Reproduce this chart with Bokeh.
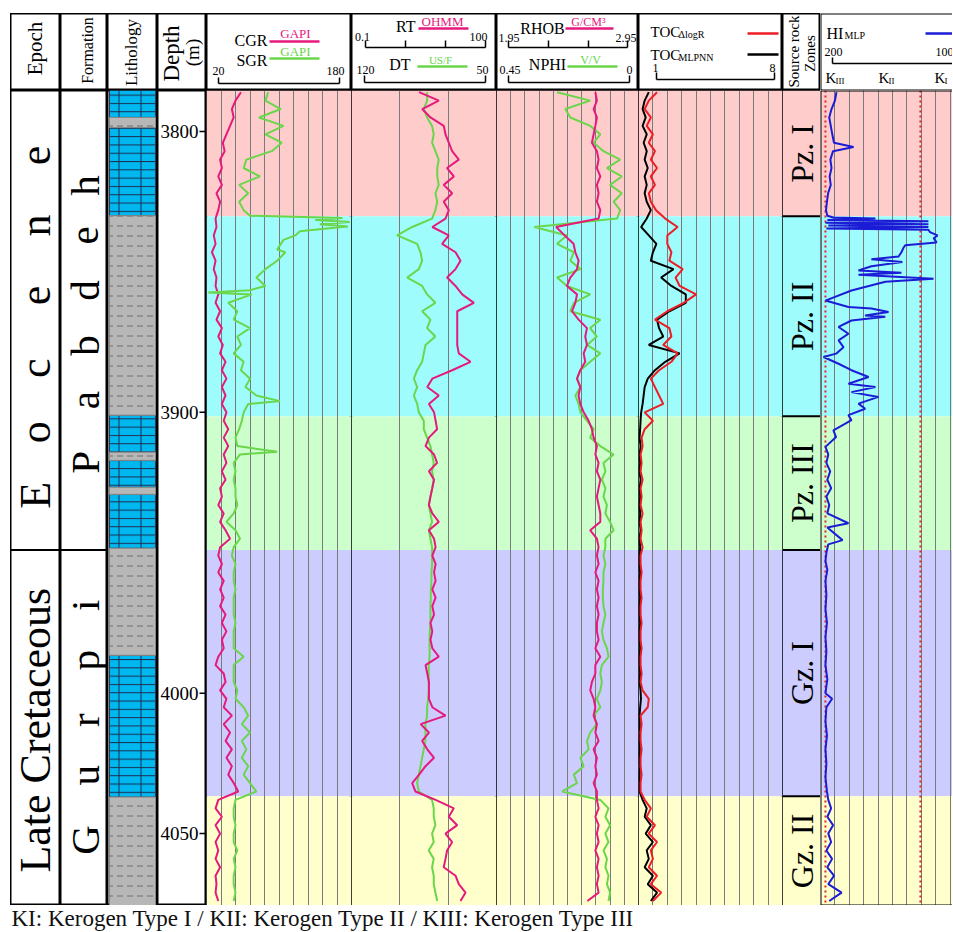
import math
from bokeh.plotting import figure
from bokeh.models import Range1d, LogScale, LinearScale, Grid, FixedTicker, Span, Spacer, Label
from bokeh.layouts import row, column
from bokeh.embed import file_html
from bokeh.resources import INLINE
from bokeh.core.properties import value

# ---------------------------------------------------------------- data
depth = [3786, 3789, 3792, 3795, 3798, 3801, 3804, 3807, 3810, 3813,
         3816, 3819, 3822, 3825, 3828, 3831, 3834, 3837, 3840, 3843,
         3846, 3849, 3852, 3855, 3858, 3861, 3864, 3867, 3870, 3873,
         3876, 3879, 3882, 3885, 3888, 3891, 3894, 3897, 3900, 3903,
         3906, 3909, 3912, 3915, 3918, 3921, 3924, 3927, 3930, 3933,
         3936, 3939, 3942, 3945, 3948, 3951, 3954, 3957, 3960, 3963,
         3966, 3969, 3972, 3975, 3978, 3981, 3984, 3987, 3990, 3993,
         3996, 3999, 4002, 4005, 4008, 4011, 4014, 4017, 4020, 4023,
         4026, 4029, 4032, 4035, 4038, 4041, 4044, 4047, 4050, 4053,
         4056, 4059, 4062, 4065, 4068, 4071, 4074]

cgr = [58, 52, 48, 50, 46, 42, 38, 40, 35, 37,
       33, 37, 31, 35, 33, 30, 31, 28, 30, 26,
       30, 28, 31, 30, 33, 30, 35, 31, 37, 33,
       38, 35, 41, 37, 42, 37, 41, 37, 42, 39,
       44, 39, 44, 39, 42, 37, 41, 35, 37, 33,
       39, 35, 41, 46, 35, 33, 37, 33, 39, 35,
       39, 35, 41, 37, 42, 37, 39, 33, 30, 39,
       41, 35, 42, 39, 48, 39, 46, 41, 48, 42,
       48, 44, 50, 55, 33, 30, 37, 30, 35, 30,
       33, 30, 35, 30, 31, 30, 33]

sgr_depth = [3786, 3789, 3792, 3795, 3798, 3801, 3804, 3807, 3810, 3813,
             3816, 3819, 3822, 3825, 3828, 3830, 3830.8, 3831.5, 3832.2, 3833,
             3833.8, 3834.6, 3835.5, 3837, 3838.6, 3840, 3842, 3843, 3846, 3849,
             3852, 3855, 3856.5, 3857.3, 3858, 3861, 3864, 3867, 3870, 3873,
             3876, 3879, 3882, 3885, 3888, 3891, 3894, 3896, 3897, 3900,
             3903, 3906, 3909, 3912, 3914, 3915, 3918, 3921, 3924, 3927,
             3930, 3933, 3936, 3939, 3942, 3945, 3948, 3951, 3954, 3957,
             3960, 3963, 3966, 3969, 3972, 3975, 3978, 3981, 3984, 3987,
             3990, 3993, 3996, 3999, 4002, 4005, 4008, 4011, 4014, 4017,
             4020, 4023, 4026, 4029, 4032, 4035, 4038, 4041, 4044, 4047,
             4050, 4053, 4056, 4059, 4062, 4065, 4068, 4071, 4074]
sgr = [88, 85, 102, 78, 105, 85, 103, 92, 64, 61,
       79, 56, 66, 56, 61, 68, 170, 140, 178, 145,
       176, 150, 123, 118, 105, 102, 98, 107, 98, 85,
       75, 85, 68, 22, 70, 44, 54, 50, 68, 54,
       58, 50, 61, 58, 68, 63, 75, 101, 66, 61,
       59, 56, 52, 54, 98, 57, 50, 52, 50, 52,
       52, 54, 50, 42, 52, 57, 50, 48, 52, 50,
       50, 52, 50, 50, 50, 52, 50, 50, 50, 61,
       50, 50, 50, 54, 52, 61, 66, 59, 68, 59,
       64, 59, 66, 61, 68, 75, 52, 50, 50, 52,
       50, 50, 54, 50, 52, 50, 50, 52, 50]

rt = [2.5, 6.4, 2.9, 4.3, 8.1, 8.8, 10.3, 12.1, 16.6, 9.5,
      13.1, 8.1, 12.1, 8.1, 10.3, 8.8, 4.7, 10.3, 7.5, 14.2,
      18.0, 14.2, 9.5, 14.2, 19.5, 34.0, 15.4, 15.4, 15.4, 15.4,
      15.4, 16.6, 29.0, 12.1, 4.7, 3.7, 6.4, 4.0, 5.1, 5.5,
      5.9, 4.0, 3.4, 5.1, 5.9, 4.0, 5.1, 4.7, 4.3, 4.0,
      4.7, 6.4, 4.0, 5.1, 5.5, 4.7, 5.5, 5.1, 5.5, 4.7,
      5.5, 4.7, 5.1, 4.3, 4.7, 4.3, 4.7, 6.4, 3.4, 3.7,
      4.0, 4.0, 4.0, 4.7, 8.8, 2.7, 4.0, 2.9, 3.7, 5.1,
      3.4, 2.5, 1.8, 2.1, 5.5, 13.1, 10.3, 15.4, 8.8, 12.1,
      9.5, 8.8, 8.1, 14.2, 16.6, 22.9, 18.0]

dt = [83.5, 83.5, 85.1, 83.5, 81.1, 80.3, 81.1, 79.5, 77.9, 78.6,
      78.6, 77.9, 79.5, 78.6, 79.5, 81.1, 90.7, 98.0, 88.3, 86.7,
      85.9, 87.5, 93.1, 85.9, 83.5, 79.5, 85.9, 81.9, 83.5, 79.5,
      84.3, 85.1, 85.9, 88.3, 89.9, 88.3, 89.9, 88.3, 87.5, 85.1,
      85.1, 83.5, 81.9, 81.1, 80.3, 81.1, 80.3, 81.1, 81.9, 82.7,
      81.9, 81.1, 82.7, 81.9, 81.1, 81.1, 81.1, 81.4, 81.4, 81.7,
      81.7, 81.9, 81.9, 81.9, 82.2, 82.3, 82.3, 82.3, 82.7, 82.7,
      82.7, 82.7, 83.0, 83.5, 83.5, 84.3, 84.3, 84.3, 85.1, 85.9,
      86.7, 87.5, 88.3, 87.5, 81.1, 80.3, 80.3, 79.5, 81.1, 80.3,
      82.7, 80.3, 81.1, 80.3, 80.3, 79.5, 78.6]

rhob = [2.646, 2.657, 2.634, 2.657, 2.646, 2.634, 2.622, 2.657, 2.669, 2.657,
        2.681, 2.657, 2.669, 2.657, 2.681, 2.669, 2.370, 2.430, 2.493, 2.505,
        2.528, 2.517, 2.470, 2.446, 2.517, 2.505, 2.482, 2.528, 2.587, 2.575,
        2.587, 2.564, 2.575, 2.540, 2.517, 2.540, 2.528, 2.540, 2.564, 2.599,
        2.622, 2.634, 2.657, 2.646, 2.669, 2.657, 2.681, 2.669, 2.657, 2.669,
        2.681, 2.681, 2.610, 2.657, 2.669, 2.657, 2.669, 2.646, 2.669, 2.657,
        2.669, 2.657, 2.669, 2.657, 2.657, 2.669, 2.646, 2.681, 2.646, 2.646,
        2.622, 2.610, 2.634, 2.646, 2.634, 2.657, 2.646, 2.669, 2.634, 2.657,
        2.646, 2.657, 2.634, 2.657, 2.657, 2.669, 2.646, 2.669, 2.657, 2.669,
        2.646, 2.669, 2.657, 2.669, 2.657, 2.669, 2.590]

nphi = [0.258, 0.153, 0.232, 0.216, 0.153, 0.121, 0.142, 0.111, 0.058, 0.100,
        0.053, 0.090, 0.053, 0.079, 0.058, 0.068, 0.330, 0.227, 0.258, 0.205,
        0.216, 0.184, 0.258, 0.227, 0.153, 0.205, 0.216, 0.121, 0.153, 0.132,
        0.163, 0.121, 0.153, 0.184, 0.195, 0.184, 0.200, 0.190, 0.184, 0.163,
        0.142, 0.153, 0.121, 0.079, 0.111, 0.105, 0.116, 0.105, 0.111, 0.100,
        0.105, 0.090, 0.079, 0.105, 0.105, 0.111, 0.105, 0.111, 0.111, 0.113,
        0.113, 0.111, 0.105, 0.111, 0.116, 0.111, 0.100, 0.095, 0.116, 0.121,
        0.116, 0.121, 0.132, 0.121, 0.142, 0.132, 0.153, 0.163, 0.158, 0.184,
        0.174, 0.205, 0.195, 0.242, 0.121, 0.095, 0.105, 0.090, 0.105, 0.095,
        0.111, 0.100, 0.105, 0.095, 0.100, 0.090, 0.095]

toc_dlogr = [1.9, 1.5, 1.3, 1.6, 1.4, 1.7, 1.5, 1.8, 1.6, 1.9,
             1.6, 1.8, 1.5, 1.6, 1.85, 2.3, 2.9, 2.4, 2.4, 2.6,
             2.5, 3.15, 2.8, 3.0, 3.8, 3.2, 2.4, 1.8, 2.5, 2.6,
             2.2, 2.9, 2.6, 2.0, 1.6, 1.8, 2.0, 2.2, 1.3, 1.7,
             1.3, 1.15, 1.2, 1.1, 1.15, 1.1, 1.2, 1.1, 1.15, 1.1,
             1.2, 1.1, 1.15, 1.1, 1.2, 1.1, 1.1, 1.15, 1.1, 1.1,
             1.15, 1.1, 1.1, 1.15, 1.1, 1.1, 1.15, 1.1, 1.1, 1.15,
             1.1, 1.2, 1.5, 1.45, 1.1, 1.15, 1.1, 1.1, 1.15, 1.1,
             1.1, 1.15, 1.1, 1.1, 1.3, 1.6, 1.4, 1.8, 1.5, 1.9,
             1.6, 1.7, 1.5, 1.9, 1.6, 2.1, 1.7]

toc_mlpnn = [1.5, 1.3, 1.2, 1.35, 1.2, 1.4, 1.25, 1.4, 1.3, 1.45,
             1.3, 1.4, 1.3, 1.4, 1.6, 1.4, 1.13, 1.5, 1.87, 1.7,
             1.6, 2.7, 2.1, 2.6, 3.3, 3.3, 2.5, 1.9, 2.0, 2.2,
             1.5, 3.0, 2.3, 1.8, 1.45, 1.3, 1.25, 1.2, 1.13, 1.1,
             1.08, 1.05, 1.1, 1.06, 1.08, 1.05, 1.1, 1.06, 1.08, 1.05,
             1.08, 1.06, 1.1, 1.05, 1.08, 1.06, 1.05, 1.08, 1.06, 1.05,
             1.08, 1.05, 1.06, 1.08, 1.05, 1.06, 1.08, 1.05, 1.06, 1.08,
             1.05, 1.1, 1.12, 1.08, 1.05, 1.06, 1.08, 1.05, 1.06, 1.05,
             1.08, 1.05, 1.06, 1.05, 1.2, 1.4, 1.3, 1.6, 1.35, 1.7,
             1.4, 1.5, 1.3, 1.7, 1.45, 1.9, 1.6]

hi_depth = [3786, 3789, 3792, 3795, 3798, 3801, 3804, 3805.5, 3807, 3810,
            3813, 3816, 3819, 3822, 3825, 3828, 3830, 3830.6, 3831, 3831.5,
            3832, 3832.5, 3833, 3833.5, 3834, 3834.5, 3835, 3835.8, 3837, 3838,
            3839.5, 3840.5, 3841.5, 3843, 3844.5, 3845.5, 3846.5, 3848, 3849.5, 3850.3,
            3851, 3852.4, 3853.5, 3856.6, 3860.2, 3862.5, 3863, 3864.3, 3865.5, 3866,
            3867.3, 3869.6, 3872, 3874.4, 3876.8, 3879.1, 3880.3, 3882.7, 3885, 3887.4,
            3889.8, 3891, 3892.8, 3894.5, 3896.9, 3898.7, 3901, 3902.8, 3906.4, 3908.8,
            3912.3, 3915, 3918, 3921, 3924, 3927, 3930, 3933, 3936, 3939.5,
            3941, 3945.5, 3947, 3950, 3953, 3956, 3960, 3965, 3970, 3975,
            3980, 3985, 3990, 3995, 4000, 4002, 4005, 4010, 4015, 4020,
            4025, 4030, 4035, 4038, 4041, 4044, 4047, 4050, 4053, 4056,
            4059, 4062, 4065, 4068, 4071, 4074]
hi = [258, 250, 232, 220, 228, 236, 245, 348, 240, 226,
      232, 222, 228, 214, 208, 203, 210, 242, 463, 210,
      742, 200, 742, 215, 742, 205, 742, 750, 790, 770,
      785, 620, 610, 600, 585, 442, 605, 442, 374, 600,
      374, 769, 515, 337, 200, 321, 442, 532, 409, 515,
      337, 269, 321, 269, 295, 256, 190, 269, 337, 427,
      321, 463, 337, 479, 374, 409, 321, 337, 242, 256,
      200, 215, 205, 225, 210, 230, 205, 220, 210, 321,
      210, 290, 215, 205, 200, 210, 200, 205, 200, 208,
      200, 205, 200, 210, 200, 235, 205, 200, 208, 200,
      205, 200, 208, 215, 230, 210, 240, 215, 230, 205,
      235, 210, 245, 215, 285, 220]

zone_names = ["Pz. I", "Pz. II", "Pz. III", "Gz. I", "Gz. II"]
zone_top = [3785.4, 3830.2, 3901.4, 3949.0, 4036.7]
zone_bottom = [3830.2, 3901.4, 3949.0, 4036.7, 4075.6]
zone_colors = ["#FFCCCC", "#9FFCFC", "#CCFFCC", "#CCCCFF", "#FFFFCC"]

litho_top = [3785.4, 3795.0, 3798.6, 3830.0, 3901.0, 3914.2, 3917.1, 3926.7, 3929.2, 3948.4, 3986.5, 4037.0]
litho_bottom = [3795.0, 3798.6, 3830.0, 3901.0, 3914.2, 3917.1, 3926.7, 3929.2, 3948.4, 3986.5, 4037.0, 4075.6]
litho_type = ["Limestone", "Shale", "Limestone", "Shale", "Limestone", "Shale",
              "Limestone", "Shale", "Limestone", "Shale", "Limestone", "Shale"]

depth_ticks = [3800, 3900, 4000, 4050]
epoch_boundary = 3949.0
kerogen_limits = [200, 700]   # KIII/KII and KII/KI
caption = "KI: Kerogen Type I / KII: Kerogen Type II / KIII: Kerogen Type III"

# ---------------------------------------------------------------- style
SERIF = value("Liberation Serif")
MAG = "#E6197D"
GRN = "#6AD64A"
RED = "#EE1C24"
BLUE = "#1C1CD6"
GRID = "#7A7A7A"
DEPTH_TOP, DEPTH_BOT = 3785.4, 4075.6
LEFT_PAD, TOP_PAD = 10, 13
HEAD_H, DATA_H, CAP_H = 77, 815, 26
W_EP, W_FM, W_LI, W_DP, W_T1, W_T2, W_T3, W_T4, W_ZN, W_HI = 50, 47, 50, 49, 145, 145, 142, 144, 38, 132
HI_LEFT, HI_FULL_RIGHT, HI_FULL_W = 174.0, 932.0, 144.0
HI_RIGHT = HI_LEFT + (HI_FULL_RIGHT - HI_LEFT) * W_HI / HI_FULL_W
ROT = math.pi / 2

Y_RANGE = Range1d(DEPTH_BOT, DEPTH_TOP)


def base_fig(w, h, xr, yr, outline=True):
    p = figure(width=w, height=h, x_range=xr, y_range=yr, output_backend="svg",
               toolbar_location=None, x_axis_type=None, y_axis_type=None, min_border=0)
    p.outline_line_color = "black" if outline else None
    p.outline_line_width = 2
    p.background_fill_color = "white"
    p.border_fill_color = "white"
    return p


def header_fig(w, outline=True):
    return base_fig(w, HEAD_H, Range1d(0, w), Range1d(HEAD_H, 0), outline)


def data_fig(w, xr, outline=True):
    return base_fig(w, DATA_H, xr, Y_RANGE, outline)


def txt(p, x, y, s, size, align="center", baseline="middle", angle=0.0, color="black"):
    p.text(x=[x], y=[y], text=[s], angle=angle, text_font=SERIF,
           text_font_size=f"{size}px", text_align=align, text_baseline=baseline,
           text_color=color)


def seg(p, x0, y0, x1, y1, color="black", width=1.5):
    p.segment(x0=[x0], y0=[y0], x1=[x1], y1=[y1], line_color=color, line_width=width)


def bracket(p, x0, x1, y, h, inner=(), right_tick=True):
    seg(p, x0, y, x1, y)
    ticks = [x0] + list(inner) + ([x1] if right_tick else [])
    for xx in ticks:
        seg(p, xx, y, xx, y - h)


def zone_bg(p, left, right):
    p.quad(left=left, right=right, top=zone_top, bottom=zone_bottom,
           fill_color=zone_colors, line_color=None, level="image")


def vgrid(p, ticks):
    p.add_layout(Grid(dimension=0, ticker=FixedTicker(ticks=ticks),
                      grid_line_color=GRID, grid_line_width=1))


# ---------------------------------------------------------------- headers
h_ep = header_fig(W_EP)
txt(h_ep, 24, 35, "Epoch", 21, angle=ROT)

h_fm = header_fig(W_FM)
txt(h_fm, 27, 37, "Formation", 16, angle=ROT)

h_li = header_fig(W_LI)
txt(h_li, 24, 39, "Lithology", 17, angle=ROT)

h_dp = header_fig(W_DP)
txt(h_dp, 14, 40, "Depth", 23, angle=ROT)
txt(h_dp, 35, 39, "(m)", 19, angle=ROT)

h_t1 = header_fig(W_T1)
txt(h_t1, 61, 27, "CGR", 16, align="right")
txt(h_t1, 89, 20, "GAPI", 13, color=MAG)
seg(h_t1, 63, 28, 113, 28, MAG, 2.5)
txt(h_t1, 61, 47, "SGR", 16, align="right")
txt(h_t1, 89, 38, "GAPI", 13, color=GRN)
seg(h_t1, 63, 45, 113, 45, GRN, 2.5)
txt(h_t1, 12, 57, "20", 12)
txt(h_t1, 129, 57, "180", 12)
bracket(h_t1, 12, 133, 70, 6)

h_t2 = header_fig(W_T2)
txt(h_t2, 64, 13, "RT", 16, align="right")
txt(h_t2, 91, 8, "OHMM", 13, color=MAG)
seg(h_t2, 67, 15, 117, 15, MAG, 2.5)
txt(h_t2, 11, 23, "0.1", 12)
txt(h_t2, 127, 23, "100", 12)
bracket(h_t2, 14, 134, 34, 7, inner=(54, 94))
txt(h_t2, 59, 51, "DT", 16, align="right")
txt(h_t2, 89, 46, "US/F", 11, color=GRN)
seg(h_t2, 66, 53, 116, 53, GRN, 2.5)
txt(h_t2, 14, 56, "120", 12)
txt(h_t2, 131, 56, "50", 12)
bracket(h_t2, 13, 134, 69, 7)

h_t3 = header_fig(W_T3)
txt(h_t3, 2, 24, "1.95", 12, align="left")
txt(h_t3, 46, 15, "RHOB", 16)
txt(h_t3, 92, 8, "G/CM³", 12, color=MAG)
seg(h_t3, 69, 15, 117, 15, MAG, 2.5)
txt(h_t3, 140, 24, "2.95", 12, align="right")
bracket(h_t3, 12, 131, 34, 7, inner=(52, 92))
txt(h_t3, 3, 56, "0.45", 12, align="left")
txt(h_t3, 51, 51, "NPHI", 16)
txt(h_t3, 94, 46, "V/V", 12, color=GRN)
seg(h_t3, 71, 53, 121, 53, GRN, 2.5)
txt(h_t3, 133, 56, "0", 12)
bracket(h_t3, 12, 133, 69, 7)

h_t4 = header_fig(W_T4)
txt(h_t4, 12, 18, "TOC", 15, align="left")
txt(h_t4, 40, 21, "ΔlogR", 10, align="left")
seg(h_t4, 109, 20, 140, 20, RED, 2.5)
txt(h_t4, 12, 41, "TOC", 15, align="left")
txt(h_t4, 40, 44, "MLPNN", 10, align="left")
seg(h_t4, 109, 41, 140, 41, "black", 2.5)
txt(h_t4, 17, 54, "1", 12)
txt(h_t4, 134, 54, "8", 12)
bracket(h_t4, 18, 136, 66, 7)

h_zn = header_fig(W_ZN)
txt(h_zn, 11, 38, "Source rock", 15, angle=ROT)
txt(h_zn, 27, 40, "Zones", 15, angle=ROT)

h_hi = header_fig(W_HI, outline=False)
txt(h_hi, 6, 20, "HI", 16, align="left")
txt(h_hi, 24, 22, "MLP", 10, align="left")
seg(h_hi, 105, 20, W_HI, 20, BLUE, 2.5)
txt(h_hi, 13, 38, "200", 12)
txt(h_hi, 115, 38, "1000", 12, align="left")
bracket(h_hi, 12, W_HI, 50, 6, right_tick=False)
for kx, sub in [(5, "III"), (58, "II"), (114, "I")]:
    txt(h_hi, kx, 64, "K", 15, align="left")
    txt(h_hi, kx + 10, 67, sub, 9, align="left")
for loc, dim in [(0, "width"), (HEAD_H, "width"), (0, "height")]:
    h_hi.add_layout(Span(location=loc, dimension=dim, line_color="black", line_width=2))

# ---------------------------------------------------------------- data row
# Epoch
d_ep = data_fig(W_EP, Range1d(0, W_EP))
eocene_pos = [3929.5, 3907.1, 3884.3, 3858.4, 3833.5, 3808.5]
for ch, yy in zip("Eocene", eocene_pos):
    txt(d_ep, 25, yy, ch, 44, angle=ROT)
txt(d_ep, 25, 4013.2, "Late Cretaceous", 44, angle=ROT)
d_ep.add_layout(Span(location=epoch_boundary, dimension="width", line_color="black", line_width=2))

# Formation
d_fm = data_fig(W_FM, Range1d(0, W_FM))
pabdeh_pos = [3917.8, 3895.7, 3876.2, 3856.6, 3837.0, 3819.2]
for ch, yy in zip("Pabdeh", pabdeh_pos):
    txt(d_fm, 24, yy, ch, 41, angle=ROT)
gurpi_pos = [4052.3, 4029.2, 4009.6, 3988.3, 3968.7]
for ch, yy in zip("Gurpi", gurpi_pos):
    txt(d_fm, 24, yy, ch, 41, angle=ROT)
d_fm.add_layout(Span(location=epoch_boundary, dimension="width", line_color="black", line_width=2))

# Lithology
d_li = data_fig(W_LI, Range1d(0, 1))
lime = [i for i, t in enumerate(litho_type) if t == "Limestone"]
shale = [i for i, t in enumerate(litho_type) if t == "Shale"]
d_li.quad(left=0.04, right=0.96, top=[litho_top[i] for i in lime],
          bottom=[litho_bottom[i] for i in lime], fill_color="#00B8F0",
          line_color="#303a50", line_width=1, hatch_pattern="horizontal_line",
          hatch_scale=8.3, hatch_color="#1d2b50", hatch_weight=1)
d_li.quad(left=0.04, right=0.96, top=[litho_top[i] for i in lime],
          bottom=[litho_bottom[i] for i in lime], fill_alpha=0, line_color=None,
          hatch_pattern="vertical_line", hatch_scale=22, hatch_color="#1d2b50", hatch_weight=1)
d_li.quad(left=0.04, right=0.96, top=[litho_top[i] for i in shale],
          bottom=[litho_bottom[i] for i in shale], fill_color="#B7B7B7",
          line_color="#888888", line_width=1, hatch_pattern="horizontal_dash",
          hatch_scale=10, hatch_color="#6E6E6E", hatch_weight=1)

# Depth
d_dp = data_fig(W_DP, Range1d(0, W_DP))
d_dp.text(x=41, y=depth_ticks, text=[str(t) for t in depth_ticks], text_font=SERIF,
          text_font_size="19px", text_align="right", text_baseline="middle")
d_dp.segment(x0=42, x1=49, y0=depth_ticks, y1=depth_ticks, line_color="black", line_width=1.5)

# Track 1: CGR / SGR
t1 = data_fig(W_T1, Range1d(20, 180))
zone_bg(t1, 20, 180)
vgrid(t1, [20 + 16 * k for k in range(1, 10)])
t1.line(cgr, depth, line_color=MAG, line_width=2)
t1.line(sgr, sgr_depth, line_color=GRN, line_width=2)

# Track 2: RT (log) / DT
t2 = data_fig(W_T2, Range1d(0.1, 100))
t2.x_scale = LogScale()
t2.extra_x_ranges = {"dt": Range1d(120, 50)}
t2.extra_x_scales = {"dt": LinearScale()}
zone_bg(t2, 0.1, 100)
vgrid(t2, [1, 10])
t2.line(dt, depth, line_color=GRN, line_width=2, x_range_name="dt")
t2.line(rt, depth, line_color=MAG, line_width=2)

# Track 3: RHOB / NPHI
t3 = data_fig(W_T3, Range1d(1.95, 2.95))
t3.extra_x_ranges = {"nphi": Range1d(0.45, 0)}
t3.extra_x_scales = {"nphi": LinearScale()}
zone_bg(t3, 1.95, 2.95)
vgrid(t3, [1.95 + 0.1 * k for k in range(1, 10)])
t3.line(nphi, depth, line_color=GRN, line_width=2, x_range_name="nphi")
t3.line(rhob, depth, line_color=MAG, line_width=2)

# Track 4: TOC
t4 = data_fig(W_T4, Range1d(1, 8))
zone_bg(t4, 1, 8)
vgrid(t4, [1 + 0.7 * k for k in range(1, 10)])
t4.line(toc_mlpnn, depth, line_color="black", line_width=2)
t4.line(toc_dlogr, depth, line_color=RED, line_width=2)

# Zones
d_zn = data_fig(W_ZN, Range1d(0, W_ZN))
zone_bg(d_zn, 0, W_ZN)
for b in zone_top[1:]:
    d_zn.add_layout(Span(location=b, dimension="width", line_color="black", line_width=2))
d_zn.text(x=19, y=[(a + b) / 2 for a, b in zip(zone_top, zone_bottom)], text=zone_names,
          angle=ROT, text_font=SERIF, text_font_size="32px", text_align="center",
          text_baseline="middle")

# HI
d_hi = data_fig(W_HI, Range1d(HI_LEFT, HI_RIGHT), outline=False)
zone_bg(d_hi, HI_LEFT, HI_RIGHT)
vgrid(d_hi, [HI_LEFT + k * (HI_FULL_RIGHT - HI_LEFT) / 10 for k in range(1, 10)])
for k in kerogen_limits:
    d_hi.add_layout(Span(location=k, dimension="height", line_color="#E0262B",
                         line_dash="2 3", line_width=2, level="underlay"))
d_hi.line(hi, hi_depth, line_color=BLUE, line_width=2)
for loc, dim in [(DEPTH_TOP, "width"), (DEPTH_BOT, "width"), (HI_LEFT, "height")]:
    d_hi.add_layout(Span(location=loc, dimension=dim, line_color="black", line_width=2))

# Caption (a Label annotation in its own short figure)
TOTAL_W = W_EP + W_FM + W_LI + W_DP + W_T1 + W_T2 + W_T3 + W_T4 + W_ZN + W_HI
cap = base_fig(TOTAL_W, CAP_H, Range1d(0, TOTAL_W), Range1d(0, CAP_H), outline=False)
cap.add_layout(Label(x=1, y=CAP_H / 2, x_units="screen", y_units="screen", text=caption,
                     text_font="Liberation Serif", text_font_size="23px",
                     text_align="left", text_baseline="middle", text_color="#111111"))

inner = column(
    Spacer(width=TOTAL_W, height=TOP_PAD),
    row(h_ep, h_fm, h_li, h_dp, h_t1, h_t2, h_t3, h_t4, h_zn, h_hi),
    row(d_ep, d_fm, d_li, d_dp, t1, t2, t3, t4, d_zn, d_hi),
    row(cap),
)
layout = row(Spacer(width=LEFT_PAD, height=TOP_PAD + HEAD_H + DATA_H + CAP_H), inner)

open("out.html", "w").write(file_html(layout, INLINE))
